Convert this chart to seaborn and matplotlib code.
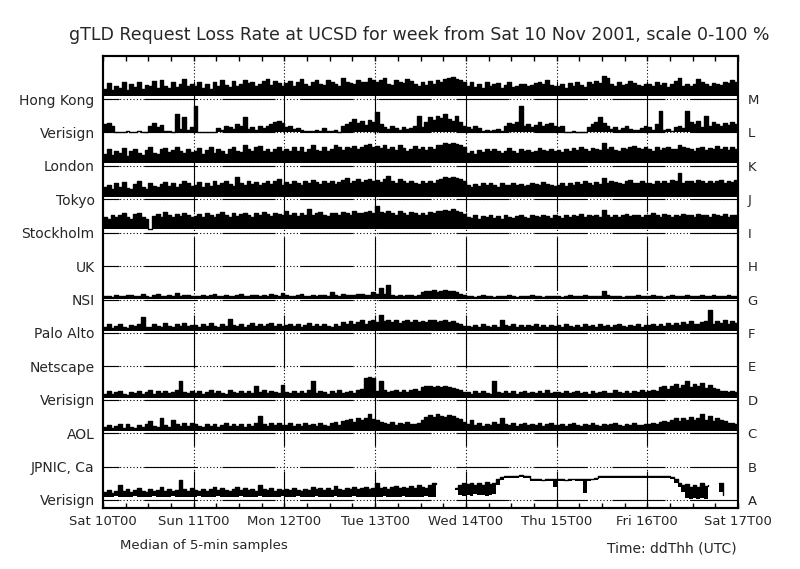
import numpy as np
import pandas as pd
import matplotlib
matplotlib.use('Agg')
import matplotlib.pyplot as plt
import seaborn as sns

nan = np.nan

# rows from bottom (A) to top (M)
letters = ['A', 'B', 'C', 'D', 'E', 'F', 'G', 'H', 'I', 'J', 'K', 'L', 'M']
servers = ['Verisign', 'JPNIC, Ca', 'AOL', 'Verisign', 'Netscape', 'Palo Alto',
           'NSI', 'UK', 'Stockholm', 'Tokyo', 'London', 'Verisign', 'Hong Kong']
day_labels = ['Sat 10T00', 'Sun 11T00', 'Mon 12T00', 'Tue 13T00',
              'Wed 14T00', 'Thu 15T00', 'Fri 16T00', 'Sat 17T00']

# hourly loss %, top of the band of 5-min medians, one day per line
loss_M = [30, 48, 26, 40, 34, 52, 28, 44, 36, 50, 30, 42, 38, 55, 33, 58, 40, 32, 50, 36, 46, 60, 38, 44,
          40, 52, 34, 46, 30, 50, 38, 56, 42, 36, 54, 40, 44, 58, 48, 52, 38, 46, 55, 60, 42, 54, 48, 40,
          48, 55, 40, 52, 60, 44, 38, 50, 56, 46, 42, 58, 50, 46, 40, 62, 52, 48, 44, 58, 52, 50, 64, 56,
          50, 58, 62, 46, 42, 56, 52, 48, 60, 54, 44, 40, 50, 42, 54, 46, 58, 50, 60, 62, 66, 60, 56, 50,
          40, 52, 36, 46, 32, 50, 38, 44, 48, 34, 42, 50, 36, 40, 46, 44, 38, 42, 48, 52, 44, 56, 42, 38,
          38, 46, 34, 48, 40, 50, 42, 36, 52, 44, 54, 48, 70, 62, 46, 40, 52, 42, 46, 54, 48, 42, 40, 46,
          44, 38, 50, 42, 48, 36, 44, 54, 64, 40, 46, 38, 44, 60, 50, 44, 40, 48, 46, 42, 52, 48, 56, 50]

loss_L = [25, 28, 20, 2, 2, 2, 3, 2, 2, 3, 2, 2, 20, 28, 15, 22, 5, 3, 2, 55, 10, 45, 8, 15,
          80, 2, 2, 2, 2, 2, 12, 8, 20, 15, 10, 25, 18, 45, 10, 15, 8, 20, 12, 18, 25, 30, 35, 28,
          15, 20, 10, 12, 6, 4, 3, 5, 8, 3, 12, 4, 3, 6, 2, 20, 25, 30, 40, 28, 35, 22, 38, 30,
          60, 25, 15, 10, 18, 12, 8, 15, 10, 12, 20, 50, 15, 30, 45, 38, 50, 42, 55, 40, 35, 48, 30, 20,
          15, 10, 18, 12, 5, 8, 3, 6, 10, 4, 20, 28, 25, 30, 80, 20, 25, 15, 22, 30, 18, 25, 28, 20,
          15, 20, 2, 2, 3, 2, 2, 2, 15, 25, 30, 45, 28, 20, 10, 15, 8, 12, 18, 10, 6, 8, 12, 20,
          15, 8, 25, 65, 8, 10, 5, 15, 20, 12, 65, 30, 25, 35, 15, 50, 20, 30, 25, 18, 28, 22, 30, 25]

loss_K = [36, 50, 32, 46, 40, 54, 30, 44, 50, 38, 34, 48, 56, 40, 36, 50, 54, 42, 48, 58, 44, 38, 50, 42,
          44, 54, 36, 48, 56, 40, 50, 44, 36, 52, 58, 46, 42, 64, 50, 44, 56, 60, 46, 52, 42, 50, 56, 46,
          50, 44, 56, 46, 58, 42, 52, 62, 48, 44, 56, 46, 52, 64, 56, 48, 58, 54, 60, 50, 56, 62, 66, 58,
          60, 54, 64, 50, 58, 48, 62, 54, 46, 52, 60, 50, 56, 48, 58, 52, 62, 64, 68, 66, 70, 66, 62, 56,
          40, 46, 36, 48, 42, 50, 44, 52, 46, 38, 44, 54, 46, 40, 50, 44, 48, 42, 46, 54, 48, 44, 52, 46,
          48, 42, 52, 46, 54, 48, 58, 50, 46, 54, 52, 48, 70, 50, 56, 48, 46, 54, 52, 58, 60, 54, 50, 56,
          50, 46, 56, 48, 54, 58, 52, 50, 64, 56, 54, 50, 46, 54, 58, 48, 55, 50, 60, 52, 56, 48, 58, 52]

loss_J = [36, 44, 32, 48, 38, 52, 34, 30, 46, 54, 36, 32, 50, 40, 36, 46, 52, 40, 48, 38, 46, 54, 48, 40,
          44, 52, 38, 48, 40, 54, 44, 50, 56, 46, 40, 66, 50, 44, 54, 46, 52, 42, 50, 56, 46, 54, 62, 44,
          52, 46, 56, 48, 42, 54, 48, 58, 52, 46, 56, 48, 54, 46, 52, 58, 64, 48, 56, 60, 52, 58, 62, 56,
          58, 52, 62, 70, 56, 50, 60, 54, 48, 56, 50, 46, 54, 48, 56, 50, 58, 62, 66, 64, 68, 64, 60, 54,
          42, 36, 46, 40, 48, 42, 50, 44, 38, 48, 42, 44, 50, 42, 46, 40, 44, 50, 46, 42, 52, 46, 44, 40,
          44, 48, 40, 50, 44, 52, 46, 54, 50, 44, 52, 46, 64, 48, 54, 52, 48, 46, 54, 58, 50, 48, 54, 50,
          48, 46, 54, 48, 56, 50, 58, 54, 78, 48, 56, 54, 50, 58, 54, 48, 56, 50, 54, 58, 50, 56, 52, 58]

loss_I = [48, 42, 54, 46, 52, 58, 48, 42, 56, 60, 46, 40, 12, 50, 56, 48, 62, 52, 46, 56, 50, 58, 52, 48,
          50, 56, 48, 58, 52, 46, 56, 62, 52, 48, 58, 50, 56, 60, 52, 48, 58, 54, 62, 56, 50, 60, 56, 52,
          66, 52, 58, 50, 60, 54, 70, 52, 58, 62, 54, 50, 60, 58, 52, 62, 58, 54, 64, 60, 58, 62, 66, 60,
          80, 62, 58, 66, 60, 54, 64, 60, 52, 62, 58, 54, 60, 52, 62, 58, 64, 66, 68, 64, 70, 64, 62, 56,
          48, 44, 52, 42, 50, 46, 54, 44, 50, 42, 52, 48, 44, 50, 54, 46, 44, 52, 50, 46, 54, 50, 44, 52,
          50, 44, 52, 46, 54, 50, 56, 46, 52, 50, 54, 46, 68, 52, 48, 54, 46, 52, 56, 50, 54, 52, 46, 54,
          52, 60, 54, 48, 56, 52, 46, 54, 50, 56, 52, 54, 48, 56, 52, 54, 48, 56, 54, 50, 56, 48, 54, 52]

loss_G = [10, 12, 9, 14, 11, 10, 13, 15, 10, 12, 18, 11, 9, 13, 16, 12, 10, 14, 12, 20, 11, 13, 15, 12,
          12, 10, 14, 11, 13, 18, 12, 10, 15, 12, 11, 14, 16, 12, 10, 13, 15, 11, 14, 12, 16, 13, 12, 20,
          14, 12, 10, 13, 16, 12, 11, 14, 12, 15, 13, 11, 22, 14, 12, 16, 13, 15, 14, 18, 16, 14, 15, 22,
          16, 35, 18, 44, 15, 12, 14, 11, 13, 15, 12, 14, 24, 26, 25, 28, 24, 26, 28, 25, 27, 24, 18, 14,
          10, 12, 9, 11, 13, 10, 12, 9, 11, 10, 12, 14, 11, 9, 12, 10, 11, 13, 10, 12, 9, 11, 10, 12,
          11, 9, 12, 14, 11, 10, 12, 13, 11, 12, 12, 10, 26, 13, 10, 12, 11, 9, 12, 10, 11, 13, 10, 12,
          11, 13, 10, 12, 9, 11, 14, 10, 12, 11, 13, 10, 12, 11, 14, 12, 10, 13, 11, 12, 10, 14, 12, 11]

loss_F = [18, 26, 15, 22, 28, 18, 16, 25, 20, 27, 47, 19, 17, 26, 20, 18, 29, 22, 19, 27, 21, 30, 20, 25,
          24, 19, 27, 20, 29, 22, 18, 28, 21, 42, 25, 20, 27, 19, 24, 29, 21, 28, 20, 26, 30, 22, 27, 20,
          24, 28, 20, 27, 18, 25, 29, 21, 27, 20, 28, 22, 19, 27, 21, 32, 28, 36, 26, 33, 38, 28, 35, 40,
          32, 55, 36, 40, 32, 38, 30, 36, 40, 32, 38, 34, 37, 32, 38, 40, 34, 35, 38, 32, 36, 30, 28, 22,
          22, 18, 25, 19, 27, 20, 18, 24, 19, 40, 24, 20, 26, 18, 23, 19, 25, 20, 27, 18, 23, 19, 25, 20,
          23, 19, 26, 20, 18, 25, 19, 27, 20, 23, 18, 26, 20, 24, 19, 23, 27, 20, 18, 25, 20, 26, 19, 23,
          24, 27, 20, 28, 22, 29, 23, 31, 25, 33, 27, 35, 28, 26, 33, 37, 70, 28, 35, 30, 38, 28, 35, 30]

loss_D = [18, 25, 16, 22, 27, 18, 15, 24, 19, 26, 17, 22, 28, 18, 25, 19, 27, 20, 23, 29, 55, 22, 19, 27,
          20, 26, 18, 24, 29, 19, 27, 21, 18, 28, 22, 20, 27, 19, 25, 21, 40, 22, 28, 20, 27, 22, 19, 45,
          22, 20, 27, 19, 25, 21, 28, 55, 20, 27, 22, 18, 25, 21, 28, 20, 24, 27, 21, 30, 32, 65, 68, 66,
          26, 55, 28, 22, 27, 30, 22, 28, 24, 30, 32, 25, 37, 40, 42, 38, 40, 37, 42, 39, 36, 32, 28, 22,
          22, 18, 25, 19, 27, 20, 18, 55, 23, 19, 25, 20, 26, 18, 23, 27, 20, 24, 19, 26, 21, 28, 20, 24,
          23, 19, 26, 20, 24, 27, 19, 23, 18, 26, 20, 24, 27, 21, 19, 28, 22, 20, 26, 21, 27, 22, 29, 24,
          27, 30, 26, 37, 42, 32, 40, 47, 36, 44, 55, 38, 46, 40, 50, 36, 44, 35, 32, 26, 26, 22, 27, 23]

loss_C = [18, 24, 14, 21, 26, 16, 28, 19, 15, 25, 18, 27, 35, 20, 17, 45, 24, 19, 40, 27, 20, 29, 22, 30,
          26, 21, 18, 28, 20, 26, 19, 25, 29, 21, 27, 20, 26, 19, 28, 22, 30, 50, 26, 21, 29, 23, 30, 25,
          24, 29, 20, 27, 21, 30, 23, 28, 22, 31, 24, 21, 29, 32, 24, 35, 38, 42, 34, 44, 38, 46, 56, 42,
          38, 32, 30, 26, 32, 24, 30, 26, 32, 27, 28, 31, 40, 47, 54, 48, 56, 50, 48, 54, 50, 46, 42, 32,
          28, 40, 24, 30, 22, 28, 24, 32, 28, 45, 28, 24, 30, 22, 27, 29, 23, 28, 24, 30, 22, 27, 29, 24,
          25, 28, 22, 27, 30, 24, 21, 28, 23, 29, 24, 22, 28, 23, 27, 30, 24, 22, 28, 23, 29, 25, 24, 28,
          27, 30, 26, 33, 37, 32, 40, 46, 36, 44, 40, 48, 38, 46, 56, 40, 50, 36, 44, 38, 36, 30, 30, 26]

loss_A = [25, 30, 22, 28, 45, 26, 32, 24, 30, 35, 28, 24, 32, 27, 30, 38, 28, 33, 26, 30, 60, 32, 28, 35,
          30, 26, 34, 28, 32, 38, 29, 35, 30, 27, 33, 40, 29, 36, 31, 34, 28, 45, 32, 30, 36, 28, 34, 31,
          33, 29, 36, 31, 28, 34, 30, 38, 32, 35, 29, 37, 31, 42, 34, 30, 36, 33, 38, 32, 35, 40, 34, 37,
          50, 36, 40, 34, 38, 42, 35, 39, 36, 41, 37, 44, 38, 35, 45, 50, 48, nan, nan, nan, nan, 35, 45, 50,
          48, 52, 45, 50, 46, 55, 48, 50, 62, 68, 72, 73, 71, 72, 74, 72, 71, 64, 62, 63, 61, 62, 63, 63,
          62, 63, 61, 62, 64, 62, 63, 62, 63, 64, 66, 72, 71, 73, 72, 71, 72, 73, 72, 71, 72, 73, 72, 71,
          72, 71, 72, 73, 72, 71, 70, 62, 52, 45, 48, 40, 45, 38, 50, 42, 44, nan, nan, 50, 15, nan, nan, nan]

# bottom of the band for A (it lifts off the floor from Wed to Fri)
loss_A_low = [10, 8, 9, 11, 8, 10, 9, 8, 11, 10, 9, 8, 10, 11, 9, 8, 10, 9, 11, 8, 10, 9, 8, 10,
              9, 11, 8, 10, 9, 8, 11, 10, 9, 8, 10, 9, 11, 8, 10, 9, 8, 11, 10, 9, 8, 10, 9, 11,
              8, 10, 9, 11, 8, 10, 9, 8, 11, 10, 9, 8, 10, 11, 9, 8, 10, 9, 11, 8, 10, 9, 8, 10,
              10, 9, 11, 8, 10, 9, 8, 11, 10, 9, 8, 10, 9, 11, 8, 10, 12, nan, nan, nan, nan, 30, 15, 12,
              15, 12, 18, 14, 16, 12, 15, 18, 45, 60, 66, 67, 65, 66, 68, 66, 65, 58, 57, 58, 56, 57, 58, 40,
              57, 58, 56, 57, 59, 57, 58, 22, 58, 59, 61, 66, 65, 67, 66, 65, 66, 67, 66, 65, 66, 67, 66, 65,
              66, 65, 66, 67, 66, 65, 64, 50, 40, 25, 5, 4, 6, 3, 5, 4, 6, nan, nan, 25, 10, nan, nan, nan]

# usual floor of the band for the other servers, %
floor_pct = {'C': 5, 'D': 5, 'F': 5, 'G': 3, 'I': 10, 'J': 8, 'K': 8, 'L': 0, 'M': 8}

loss = {'A': loss_A, 'C': loss_C, 'D': loss_D, 'F': loss_F, 'G': loss_G,
        'I': loss_I, 'J': loss_J, 'K': loss_K, 'L': loss_L, 'M': loss_M}
loss_low = {'A': loss_A_low}

sns.set_style('white')
plt.rcParams['font.family'] = ['DejaVu Sans']
plt.rcParams['lines.scale_dashes'] = False

fig = plt.figure(figsize=(8, 5.69), dpi=100)
ax = fig.add_axes([0.12875, 0.1072, 0.79375, 0.7944])

ytop, ybot = 13.29, -0.24
px = 0.72  # one pixel in points

# gnuplot-like grid: dotted with long solid stretches
for r in range(13):
    ax.plot([0, 168], [r, r], color='black', lw=0.8, ls=(0, (0.8, 1.6)), zorder=1)
    ax.plot([0, 168], [r, r], color='black', lw=0.8, ls=(37 * px, (53 * px, 25 * px)), zorder=1)
for d in range(1, 7):
    ax.plot([24 * d, 24 * d], [ytop, ybot], color='black', lw=0.8, ls=(0, (0.8, 1.6)), zorder=1)
    ax.plot([24 * d, 24 * d], [ytop, ybot], color='black', lw=0.8, ls=(53 * px, (53 * px, 25 * px)), zorder=1)

for letter, vals in loss.items():
    r = letters.index(letter)
    hi = np.array(vals, dtype=float)
    if letter in loss_low:
        lo = np.array(loss_low[letter], dtype=float)
    else:
        lo = np.full(len(hi), floor_pct[letter], dtype=float)
    hours = np.arange(len(hi) + 1)
    hi = np.append(hi, hi[-1])
    lo = np.append(lo, lo[-1])
    ok = ~np.isnan(hi)
    ax.fill_between(hours, r + np.nan_to_num(lo) / 100, r + np.nan_to_num(hi) / 100,
                    where=ok, step='post', color='black', lw=0, zorder=2)
    d = pd.DataFrame({'hour': hours, 'y': r + hi / 100, 'seg': np.cumsum(~ok)})
    sns.lineplot(data=d, x='hour', y='y', units='seg', estimator=None,
                 drawstyle='steps-post', color='black', lw=1.0, ax=ax, legend=False, zorder=3)

ax.set_xlim(0, 168)
ax.set_ylim(ybot, ytop)
ax.set_xlabel('')
ax.set_ylabel('')

ax.set_xticks(range(0, 169, 24))
ax.set_xticklabels(day_labels, fontsize=9.5)
ax.set_xticks(range(0, 169, 6), minor=True)
ax.tick_params(axis='x', which='both', direction='in', top=True, bottom=True,
               length=5 * px, width=1, color='black', pad=5)
ax.set_yticks(range(13))
ax.set_yticklabels(servers, fontsize=10)
ax.tick_params(axis='y', length=0, pad=6)

ax2 = ax.twinx()
ax2.set_ylim(ybot, ytop)
ax2.set_yticks(range(13))
ax2.set_yticklabels(letters, fontsize=9.5)
ax2.tick_params(axis='y', length=0, pad=7)

for a in (ax, ax2):
    for s in a.spines.values():
        s.set_color('black')
        s.set_linewidth(1.5)
        s.set_visible(True)

fig.text(419 / 800, 1 - 35 / 569,
         'gTLD Request Loss Rate at UCSD for week from Sat 10 Nov 2001, scale 0-100 %',
         ha='center', va='center', fontsize=12.5)
fig.text(204 / 800, 1 - 545 / 569, 'Median of 5-min samples', ha='center', va='center', fontsize=9.5)
fig.text(737 / 800, 1 - 548 / 569, 'Time: ddThh (UTC)', ha='right', va='center', fontsize=10)

fig.savefig('out.png', dpi=100)
